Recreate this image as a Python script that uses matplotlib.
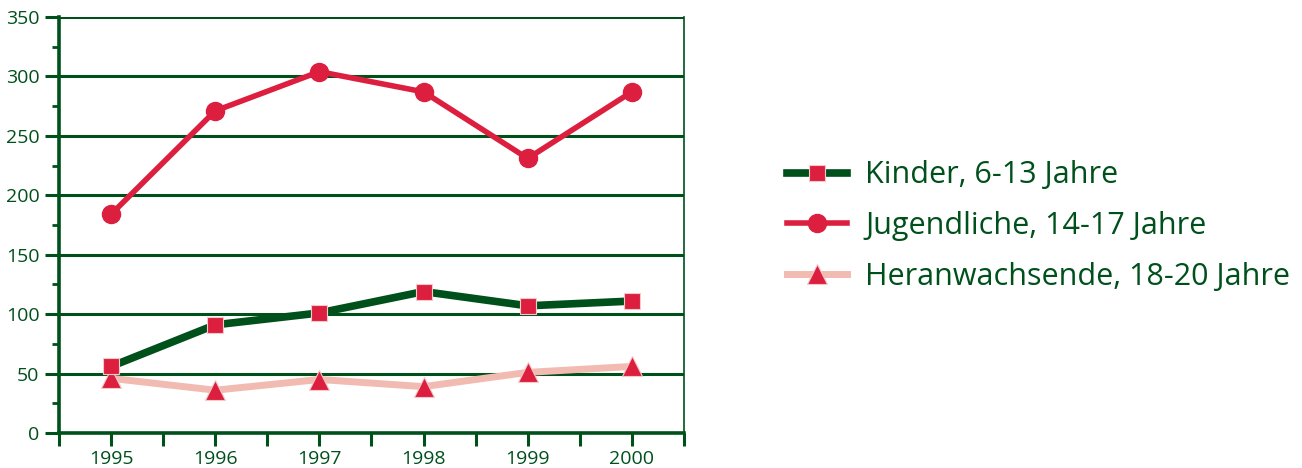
import matplotlib.pyplot as plt
from matplotlib.ticker import MultipleLocator, FixedLocator

plt.rcParams['font.family'] = ['Open Sans', 'DejaVu Sans']

years = ["1995", "1996", "1997", "1998", "1999", "2000"]
kinder = [56, 91, 101, 119, 107, 111]
jugendliche = [184, 271, 304, 287, 231, 287]
heranwachsende = [46, 36, 45, 39, 51, 56]

labels = ["Kinder, 6-13 Jahre", "Jugendliche, 14-17 Jahre", "Heranwachsende, 18-20 Jahre"]

GREEN = "#00501c"
RED = "#dc1f3f"
PINK = "#f2bbb2"

fig = plt.figure(figsize=(13.02, 4.68), dpi=100)
ax = fig.add_axes([0.0453, 0.0748, 0.4800, 0.8889])

x = list(range(len(years)))

# horizontal grid lines every 50
for yv in range(0, 351, 50):
    ax.axhline(yv, color=GREEN, linewidth=2.2, zorder=1)

ax.plot(x, heranwachsende, color=PINK, linewidth=5, marker="^", markersize=14,
        markerfacecolor=RED, markeredgecolor="#f4c9c9", markeredgewidth=0.8,
        label=labels[2], zorder=3)
ax.plot(x, kinder, color=GREEN, linewidth=5.5, marker="s", markersize=12,
        markerfacecolor=RED, markeredgecolor="#f4c9c9", markeredgewidth=0.8,
        label=labels[0], zorder=4)
ax.plot(x, jugendliche, color=RED, linewidth=4, marker="o", markersize=13,
        markerfacecolor=RED, markeredgecolor=RED,
        label=labels[1], zorder=4)

ax.set_xlim(-0.5, len(years) - 0.5)
ax.set_ylim(0, 350)

ax.xaxis.set_major_locator(FixedLocator(x))
ax.xaxis.set_minor_locator(FixedLocator([i - 0.5 for i in range(len(years) + 1)]))
ax.set_xticklabels(years)
ax.yaxis.set_major_locator(MultipleLocator(50))
ax.yaxis.set_minor_locator(MultipleLocator(25))

ax.tick_params(axis="x", which="both", direction="out", length=9, width=2.2,
               color=GREEN, labelcolor=GREEN, labelsize=14, pad=3)
ax.tick_params(axis="y", which="major", direction="out", length=10, width=2.2,
               color=GREEN, labelcolor=GREEN, labelsize=14, pad=4)
ax.tick_params(axis="y", which="minor", direction="out", length=5, width=2,
               color=GREEN)

for side in ["left", "bottom"]:
    ax.spines[side].set_color(GREEN)
    ax.spines[side].set_linewidth(2.6)
ax.spines["right"].set_color(GREEN)
ax.spines["right"].set_linewidth(1.2)
ax.spines["top"].set_visible(False)

handles, labs = ax.get_legend_handles_labels()
order = [1, 2, 0]
leg = fig.legend([handles[i] for i in order], [labs[i] for i in order],
                 loc="center left", bbox_to_anchor=(0.6045, 0.517),
                 frameon=False, fontsize=22, handlelength=1.95,
                 labelspacing=0.68, borderpad=0, handletextpad=0.6,
                 borderaxespad=0)
for t in leg.get_texts():
    t.set_color(GREEN)

fig.savefig("out.png", dpi=100)
